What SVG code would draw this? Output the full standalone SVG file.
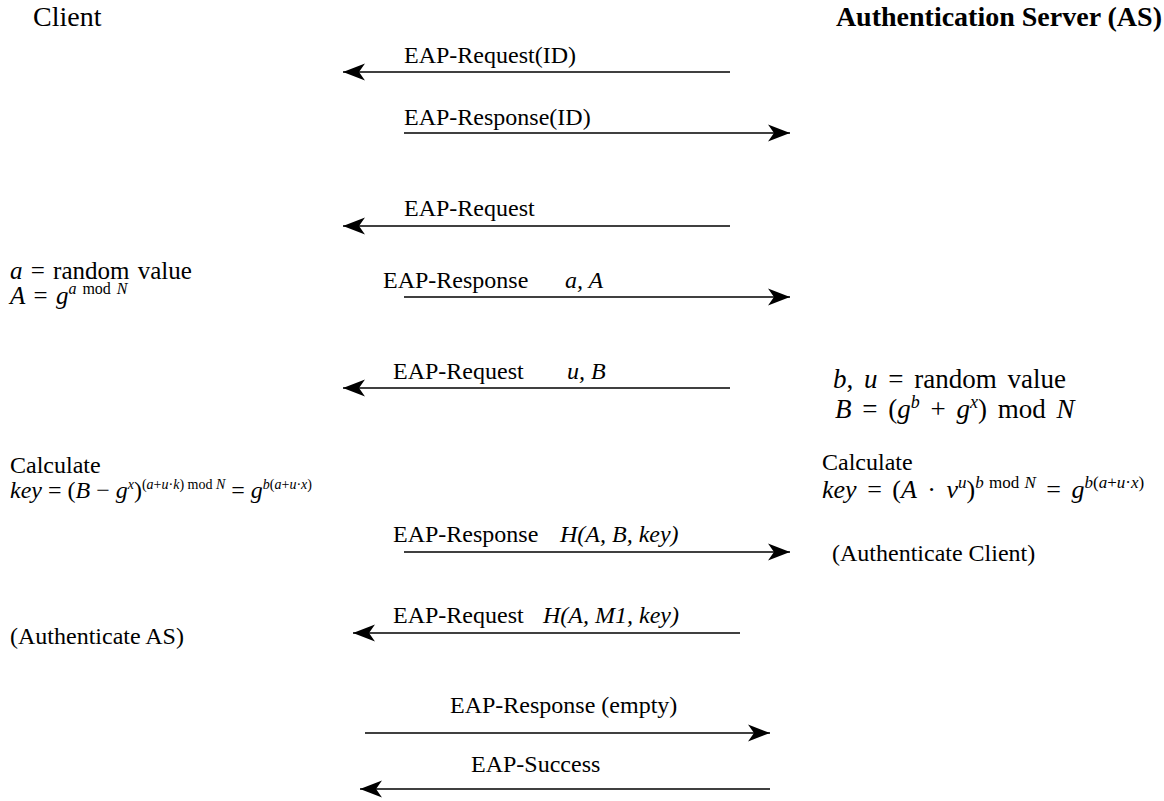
<svg xmlns="http://www.w3.org/2000/svg" width="1164" height="801" viewBox="0 0 1164 801">
<defs>
<marker id="ah" markerWidth="24" markerHeight="20" refX="22" refY="10" orient="auto" markerUnits="userSpaceOnUse">
<path d="M0,1.5 L22,10 L0,18.5 L6,10 Z" fill="#000"/>
</marker>
</defs>
<rect width="1164" height="801" fill="#fff"/>
<g id="client"><text x="33" y="26" font-family="Liberation Serif" font-size="28">Client</text></g>
<g id="as"><text x="1162" y="26" text-anchor="end" font-weight="bold" font-family="Liberation Serif" font-size="28">Authentication Server (AS)</text></g>
<g id="connectors" stroke="#000" stroke-width="1.3">
<line x1="730" y1="72" x2="343" y2="72" marker-end="url(#ah)"/>
<line x1="404" y1="133" x2="790" y2="133" marker-end="url(#ah)"/>
<line x1="730" y1="226" x2="343" y2="226" marker-end="url(#ah)"/>
<line x1="404" y1="297" x2="790" y2="297" marker-end="url(#ah)"/>
<line x1="730" y1="388" x2="343" y2="388" marker-end="url(#ah)"/>
<line x1="404" y1="552" x2="790" y2="552" marker-end="url(#ah)"/>
<line x1="740" y1="633" x2="353" y2="633" marker-end="url(#ah)"/>
<line x1="365" y1="733" x2="770" y2="733" marker-end="url(#ah)"/>
<line x1="770" y1="789" x2="360" y2="789" marker-end="url(#ah)"/>
</g>
<g id="labels">
<text x="404" y="63" font-family="Liberation Serif" font-size="24">EAP-Request(ID)</text>
<text x="404" y="125" font-family="Liberation Serif" font-size="24">EAP-Response(ID)</text>
<text x="404" y="216" font-family="Liberation Serif" font-size="24">EAP-Request</text>
<text x="383" y="288" font-family="Liberation Serif" font-size="24">EAP-Response</text>
<text x="565" y="288" font-style="italic" font-family="Liberation Serif" font-size="24">a, A</text>
<text x="393" y="379" font-family="Liberation Serif" font-size="24">EAP-Request</text>
<text x="567" y="379" font-style="italic" font-family="Liberation Serif" font-size="24">u, B</text>
<text x="393" y="542" font-family="Liberation Serif" font-size="24">EAP-Response</text>
<text x="560" y="542" font-style="italic" font-family="Liberation Serif" font-size="24">H(A, B, key)</text>
<text x="393" y="623" font-family="Liberation Serif" font-size="24">EAP-Request</text>
<text x="543" y="623" font-style="italic" font-family="Liberation Serif" font-size="24">H(A, M1, key)</text>
<text x="450" y="713" font-family="Liberation Serif" font-size="24">EAP-Response (empty)</text>
<text x="471" y="772" font-family="Liberation Serif" font-size="24">EAP-Success</text>
</g>
<g id="client-notes">
<text x="10" y="279" font-family="Liberation Serif" font-size="25" word-spacing="2"><tspan font-style="italic">a</tspan> = random value</text>
<text x="10" y="304" font-family="Liberation Serif" font-size="25" word-spacing="2"><tspan font-style="italic">A</tspan> = <tspan font-style="italic">g</tspan><tspan font-size="16" dy="-10"><tspan font-style="italic">a</tspan> mod <tspan font-style="italic">N</tspan></tspan></text>
<text x="10" y="473" font-family="Liberation Serif" font-size="24">Calculate</text>
<text x="10" y="498" font-family="Liberation Serif" font-size="24"><tspan font-style="italic">key</tspan> = (<tspan font-style="italic">B</tspan> &#8722; <tspan font-style="italic">g</tspan><tspan font-size="14" font-style="italic" dy="-9">x</tspan><tspan dy="9">)</tspan><tspan font-size="14" dy="-9">(<tspan font-style="italic">a</tspan>+<tspan font-style="italic">u</tspan>&#183;<tspan font-style="italic">k</tspan>) mod <tspan font-style="italic">N</tspan></tspan><tspan dy="9"> = </tspan><tspan font-style="italic">g</tspan><tspan font-size="14" dy="-9"><tspan font-style="italic">b</tspan>(<tspan font-style="italic">a</tspan>+<tspan font-style="italic">u</tspan>&#183;<tspan font-style="italic">x</tspan>)</tspan></text>
<text x="10" y="644" font-family="Liberation Serif" font-size="24">(Authenticate AS)</text>
</g>
<g id="as-notes">
<text x="833" y="388" font-family="Liberation Serif" font-size="27" word-spacing="4"><tspan font-style="italic">b</tspan>, <tspan font-style="italic">u</tspan> = random value</text>
<text x="835" y="418" font-family="Liberation Serif" font-size="27" word-spacing="4"><tspan font-style="italic">B</tspan> = (<tspan font-style="italic">g</tspan><tspan font-size="18" font-style="italic" dy="-10">b</tspan><tspan dy="10"> + </tspan><tspan font-style="italic">g</tspan><tspan font-size="18" font-style="italic" dy="-10">x</tspan><tspan dy="10">) mod </tspan><tspan font-style="italic">N</tspan></text>
<text x="822" y="470" font-family="Liberation Serif" font-size="24">Calculate</text>
<text x="822" y="498" font-family="Liberation Serif" font-size="26" word-spacing="4"><tspan font-style="italic">key</tspan> = (<tspan font-style="italic">A</tspan> &#183; <tspan font-style="italic">v</tspan><tspan font-size="17" font-style="italic" dy="-10">u</tspan><tspan dy="10">)</tspan><tspan font-size="17" dy="-10" word-spacing="1"><tspan font-style="italic">b</tspan> mod <tspan font-style="italic">N</tspan></tspan><tspan dy="10"> = </tspan><tspan font-style="italic">g</tspan><tspan font-size="17" dy="-10"><tspan font-style="italic">b</tspan>(<tspan font-style="italic">a</tspan>+<tspan font-style="italic">u</tspan>&#183;<tspan font-style="italic">x</tspan>)</tspan></text>
<text x="832" y="561" font-family="Liberation Serif" font-size="24">(Authenticate Client)</text>
</g>
</svg>
